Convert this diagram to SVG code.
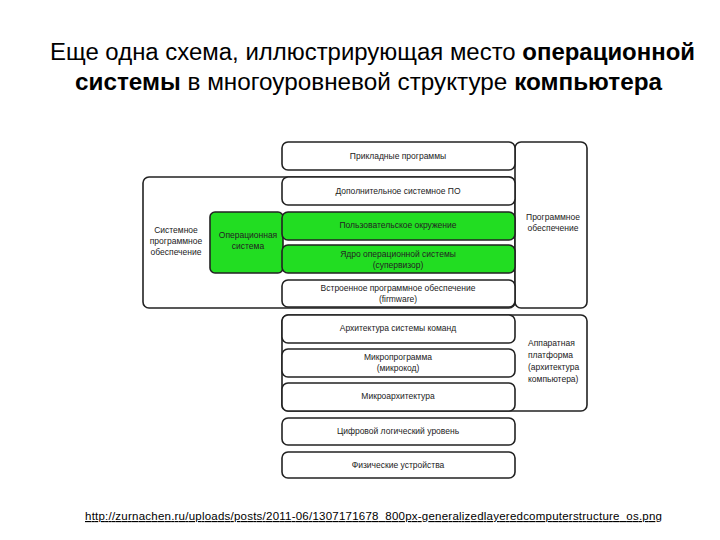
<svg xmlns="http://www.w3.org/2000/svg" width="720" height="540" viewBox="0 0 720 540">
<style>
.t{font-family:"Liberation Sans",Arial,sans-serif;fill:#000}
.h{font-size:23.5px}
.s{font-size:8.5px;text-anchor:middle;fill:#222}
.l{font-size:8.5px;fill:#222}
.b{fill:#fff;stroke:#222;stroke-width:1.6}
.g{fill:#22dd22;stroke:#222;stroke-width:1.6}
</style>
<rect width="720" height="540" fill="#fff"/>
<text class="t h" x="50" y="60" textLength="645" lengthAdjust="spacingAndGlyphs">Еще одна схема, иллюстрирующая место <tspan font-weight="bold">операционной</tspan></text>
<text class="t h" x="75" y="90" textLength="587" lengthAdjust="spacingAndGlyphs"><tspan font-weight="bold">системы</tspan> в многоуровневой структуре <tspan font-weight="bold">компьютера</tspan></text>
<g id="sys-po"><rect class="b" x="143" y="177" width="372" height="131" rx="6"/>
<text class="t s" x="176" y="233">Системное</text><text class="t s" x="176" y="244">программное</text><text class="t s" x="176" y="255">обеспечение</text></g>
<g id="po"><rect class="b" x="515" y="142" width="72" height="166" rx="6"/>
<text class="t s" x="553" y="220">Программное</text><text class="t s" x="553" y="231">обеспечение</text></g>
<g id="hw"><rect class="b" x="282" y="315" width="305" height="96" rx="6"/>
<text class="t l" x="528" y="346">Аппаратная</text><text class="t l" x="528" y="358">платформа</text><text class="t l" x="528" y="370">(архитектура</text><text class="t l" x="528" y="382">компьютера)</text></g>
<g id="os"><rect class="g" x="210" y="212" width="73" height="61" rx="5"/>
<text class="t s" x="248" y="238">Операционная</text><text class="t s" x="248" y="249">система</text></g>
<g id="r1"><rect class="b" x="282" y="142" width="233" height="28" rx="6"/><text class="t s" x="398" y="159">Прикладные программы</text></g>
<g id="r2"><rect class="b" x="282" y="177" width="233" height="28" rx="6"/><text class="t s" x="398" y="194">Дополнительное системное ПО</text></g>
<g id="r3"><rect class="g" x="282" y="212" width="233" height="28" rx="6"/><text class="t s" x="398" y="228">Пользовательское окружение</text></g>
<g id="r4"><rect class="g" x="282" y="245" width="233" height="28" rx="6"/><text class="t s" x="398" y="257">Ядро операционной системы</text><text class="t s" x="398" y="268">(супервизор)</text></g>
<g id="r5"><rect class="b" x="282" y="280" width="233" height="27" rx="6"/><text class="t s" x="398" y="291">Встроенное программное обеспечение</text><text class="t s" x="398" y="302">(firmware)</text></g>
<g id="r6"><rect class="b" x="282" y="315" width="233" height="28" rx="6"/><text class="t s" x="398" y="331">Архитектура системы команд</text></g>
<g id="r7"><rect class="b" x="282" y="349" width="233" height="28" rx="6"/><text class="t s" x="398" y="360">Микропрограмма</text><text class="t s" x="398" y="371">(микрокод)</text></g>
<g id="r8"><rect class="b" x="282" y="383" width="233" height="28" rx="6"/><text class="t s" x="398" y="399">Микроархитектура</text></g>
<g id="r9"><rect class="b" x="282" y="418" width="233" height="27" rx="6"/><text class="t s" x="398" y="434">Цифровой логический уровень</text></g>
<g id="r10"><rect class="b" x="282" y="452" width="233" height="26" rx="6"/><text class="t s" x="398" y="468">Физические устройства</text></g>
<g id="connectors"/>
<text class="t" x="85" y="520" font-size="11.5" textLength="577" lengthAdjust="spacing" text-decoration="underline">http://zurnachen.ru/uploads/posts/2011-06/1307171678_800px-generalizedlayeredcomputerstructure_os.png</text>
</svg>
